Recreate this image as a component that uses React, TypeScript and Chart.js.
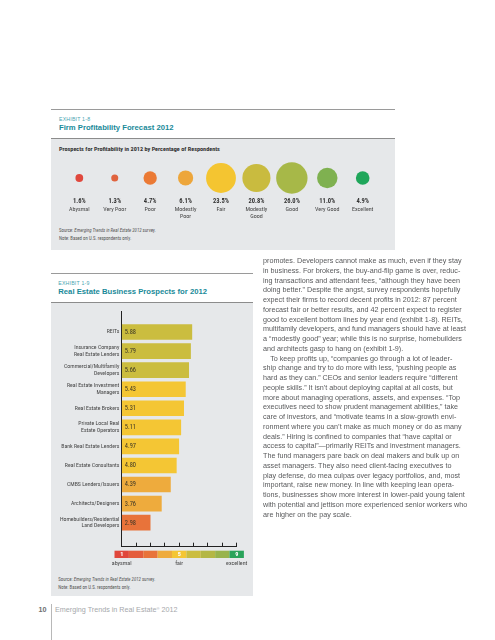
import React, { useEffect, useRef } from "react";
import { Chart, registerables } from "chart.js";

Chart.register(...registerables);

// ---------- Exhibit 1-8 data ----------
const ratingNames = ["Abysmal", "Very Poor", "Poor", "Modestly Poor", "Fair", "Modestly Good", "Good", "Very Good", "Excellent"];
const ratingNameLines = [["Abysmal"], ["Very Poor"], ["Poor"], ["Modestly", "Poor"], ["Fair"], ["Modestly", "Good"], ["Good"], ["Very Good"], ["Excellent"]];
const profitShares = [1.6, 1.3, 4.7, 6.1, 23.5, 20.8, 26.0, 11.0, 4.9];

// ---------- Exhibit 1-9 data ----------
const sectors = [
  ["REITs"],
  ["Insurance Company", "Real Estate Lenders"],
  ["Commercial/Multifamily", "Developers"],
  ["Real Estate Investment", "Managers"],
  ["Real Estate Brokers"],
  ["Private Local Real", "Estate Operators"],
  ["Bank Real Estate Lenders"],
  ["Real Estate Consultants"],
  ["CMBS Lenders/Issuers"],
  ["Architects/Designers"],
  ["Homebuilders/Residential", "Land Developers"],
];
const prospectScores = [5.88, 5.79, 5.66, 5.43, 5.31, 5.11, 4.97, 4.8, 4.39, 3.76, 2.98];
const scaleTicks = [1, 2, 3, 4, 5, 6, 7, 8, 9];
const scaleWordValues = [1, 5, 9];
const scaleWords = ["abysmal", "fair", "excellent"];

// ---------- styles ----------
const scaleColors = ["#e0473b", "#e45d3c", "#e8733a", "#eeab3d", "#f4c634", "#cbbd3f", "#b4b746", "#98b34d", "#29a35a"];
const bubbleColors = ["#e0483d", "#e0633e", "#eb7a35", "#eda63b", "#f4c531", "#c9bb3f", "#a7b848", "#7fb150", "#1fa65a"];
const NARROW = "'Roboto Condensed', 'DejaVu Sans Condensed', sans-serif";
const SANS = "'Liberation Sans', Arial, Helvetica, sans-serif";
const TEAL = "#1a8a99";

const bodyLines = [
  "promotes. Developers cannot make as much, even if they stay",
  "in business. For brokers, the buy-and-flip game is over, reduc-",
  "ing transactions and attendant fees, \u201calthough they have been",
  "doing better.\u201d Despite the angst, survey respondents hopefully",
  "expect their firms to record decent profits in 2012: 87 percent",
  "forecast fair or better results, and 42 percent expect to register",
  "good to excellent bottom lines by year end (exhibit 1-8). REITs,",
  "multifamily developers, and fund managers should have at least",
  "a \u201cmodestly good\u201d year; while this is no surprise, homebuilders",
  "and architects gasp to hang on (exhibit 1-9).",
  "\u2003To keep profits up, \u201ccompanies go through a lot of leader-",
  "ship change and try to do more with less, \u201cpushing people as",
  "hard as they can.\u201d CEOs and senior leaders require \u201cdifferent",
  "people skills.\u201d It isn\u2019t about deploying capital at all costs, but",
  "more about managing operations, assets, and expenses. \u201cTop",
  "executives need to show prudent management abilities,\u201d take",
  "care of investors, and \u201cmotivate teams in a slow-growth envi-",
  "ronment where you can\u2019t make as much money or do as many",
  "deals.\u201d Hiring is confined to companies that \u201chave capital or",
  "access to capital\u201d\u2014primarily REITs and investment managers.",
  "The fund managers pare back on deal makers and bulk up on",
  "asset managers. They also need client-facing executives to",
  "play defense, do mea culpas over legacy portfolios, and, most",
  "important, raise new money. In line with keeping lean opera-",
  "tions, businesses show more interest in lower-paid young talent",
  "with potential and jettison more experienced senior workers who",
  "are higher on the pay scale.",
];

function BubbleChart() {
  const ref = useRef<HTMLCanvasElement>(null);
  useEffect(() => {
    const chart = new Chart(ref.current as HTMLCanvasElement, {
      type: "bubble",
      data: {
        datasets: [
          {
            data: profitShares.map((v, i) => ({ x: i, y: 0, r: 3.08 * Math.sqrt(v) })),
            backgroundColor: bubbleColors,
            borderWidth: 0,
            clip: false,
          } as any,
        ],
      },
      options: {
        responsive: false,
        animation: false,
        events: [],
        layout: { autoPadding: false, padding: { left: 10.6, right: 14.6, top: 5, bottom: 5.2 } },
        plugins: { legend: { display: false }, tooltip: { enabled: false } },
        scales: {
          x: {
            type: "category",
            labels: ratingNames,
            offset: true,
            weight: 0,
            grid: { display: false, drawTicks: false },
            border: { display: false },
            ticks: {
              padding: 2,
              autoSkip: false,
              maxRotation: 0,
              color: "#333",
              font: { family: NARROW, size: 6.5, weight: "bold", lineHeight: 1.02 },
              callback: (_v: any, i: number) => profitShares[i].toFixed(1) + "%",
            },
          },
          x2: {
            type: "category",
            axis: "x",
            position: "bottom",
            labels: ratingNameLines as any,
            offset: true,
            weight: 1,
            grid: { display: false, drawTicks: false },
            border: { display: false },
            ticks: {
              padding: 0,
              autoSkip: false,
              maxRotation: 0,
              color: "#444",
              font: { family: NARROW, size: 6, lineHeight: 1.1 },
            },
          },
          y: { type: "linear", min: -1, max: 1, display: false },
        },
      } as any,
    });
    return () => chart.destroy();
  }, []);
  return (
    <canvas
      ref={ref}
      width={344}
      height={70}
      style={{ position: "absolute", left: 51, top: 155, width: 344, height: 70 }}
    />
  );
}

function BarChart() {
  const ref = useRef<HTMLCanvasElement>(null);
  useEffect(() => {
    const valueLabels = {
      id: "valueLabels",
      afterDatasetsDraw(chart: any) {
        const { ctx } = chart;
        const meta = chart.getDatasetMeta(0);
        ctx.save();
        ctx.font = `6.4px ${NARROW}`;
        ctx.fillStyle = "#3a3526";
        ctx.textAlign = "left";
        ctx.textBaseline = "middle";
        meta.data.forEach((bar: any, i: number) => {
          ctx.fillText(prospectScores[i].toFixed(2), bar.base + 2.6, bar.y + 0.3);
        });
        ctx.restore();
      },
    };
    const ratingScale = {
      id: "ratingScale",
      afterDraw(chart: any) {
        const { ctx } = chart;
        const x = chart.scales.x;
        const top = chart.chartArea.bottom + 4;
        const h = 7.3;
        ctx.save();
        scaleTicks.forEach((t, i) => {
          const l = x.getPixelForValue(t - 0.5);
          const r = x.getPixelForValue(t + 0.5);
          ctx.fillStyle = scaleColors[i];
          ctx.fillRect(l, top, r - l, h);
        });
        ctx.textAlign = "center";
        ctx.textBaseline = "middle";
        ctx.font = `bold 6.2px ${NARROW}`;
        ctx.fillStyle = "#ffffff";
        scaleWordValues.forEach((v) => ctx.fillText(String(v), x.getPixelForValue(v), top + h / 2 + 0.3));
        ctx.font = `6px ${NARROW}`;
        ctx.fillStyle = "#444";
        scaleWordValues.forEach((v, i) => ctx.fillText(scaleWords[i], x.getPixelForValue(v), top + h + 5));
        ctx.restore();
      },
    };
    const chart = new Chart(ref.current as HTMLCanvasElement, {
      type: "bar",
      data: {
        datasets: [
          {
            data: prospectScores.map((v, i) => ({ x: v, y: i })),
            base: 1,
            barThickness: 15,
            backgroundColor: prospectScores.map((v) => scaleColors[Math.round(v) - 1]),
            borderWidth: 0,
          } as any,
        ],
      },
      options: {
        indexAxis: "y",
        responsive: false,
        animation: false,
        events: [],
        layout: { padding: { left: 0, right: 16.3, top: 9.8, bottom: 25.3 } },
        plugins: { legend: { display: false }, tooltip: { enabled: false } },
        scales: {
          x: {
            type: "linear",
            min: 1,
            max: 9,
            ticks: { display: false, stepSize: 1 },
            grid: { display: true, drawOnChartArea: false, drawTicks: true, tickLength: -4, color: "#222", lineWidth: 1 },
            border: { display: true, color: "#222", width: 1 },
          },
          y: {
            type: "linear",
            reverse: true,
            min: -0.5,
            max: 10.7,
            afterBuildTicks: (s: any) => {
              s.ticks = sectors.map((_, i) => ({ value: i }));
            },
            afterFit: (s: any) => {
              s.width = 70.7;
            },
            grid: { display: false, drawTicks: false },
            border: { display: true, color: "#222", width: 1 },
            ticks: {
              padding: 2.4,
              autoSkip: false,
              color: "#444",
              font: { family: NARROW, size: 5.8, lineHeight: 1.15 },
              callback: (v: any) => sectors[v] as any,
            },
          },
        },
      } as any,
      plugins: [valueLabels, ratingScale],
    });
    return () => chart.destroy();
  }, []);
  return (
    <canvas
      ref={ref}
      width={202}
      height={270}
      style={{ position: "absolute", left: 51, top: 302, width: 202, height: 270 }}
    />
  );
}

function T(props: { x: number; y: number; size: number; children: any; style?: any }) {
  return (
    <div
      style={{
        position: "absolute",
        left: props.x,
        top: props.y - 5,
        height: 10,
        lineHeight: "10px",
        fontSize: props.size,
        whiteSpace: "nowrap",
        fontFamily: SANS,
        ...(props.style || {}),
      }}
    >
      {props.children}
    </div>
  );
}

function Rule(props: { x: number; y: number; w: number; color?: string }) {
  return (
    <div
      style={{
        position: "absolute",
        left: props.x,
        top: props.y,
        width: props.w,
        height: 1,
        background: props.color || "#9a9a9a",
      }}
    />
  );
}

export default function App() {
  const grey = "#e6e8ea";
  return (
    <div
      style={{
        position: "fixed",
        left: 0,
        top: 0,
        width: 495,
        height: 640,
        background: "#ffffff",
        overflow: "hidden",
        fontFamily: SANS,
      }}
    >
      {/* Exhibit 1-8 */}
      <Rule x={51} y={109} w={344} />
      <T x={59} y={119.3} size={5.2} style={{ color: "#4aa6b2", letterSpacing: 0.2 }}>EXHIBIT 1-8</T>
      <T x={59} y={127.5} size={7.7} style={{ color: TEAL, fontWeight: "bold" }}>Firm Profitability Forecast 2012</T>
      <Rule x={51} y={137.5} w={344} color="#8c8c8c" />
      <div style={{ position: "absolute", left: 51, top: 138.5, width: 344, height: 111.5, background: grey }} />
      <T x={59} y={149} size={6.2} style={{ color: "#333", fontWeight: "bold", fontFamily: NARROW }}>
        Prospects for Profitability in 2012 by Percentage of Respondents
      </T>
      <BubbleChart />
      <T x={59} y={231.3} size={4.8} style={{ color: "#555", fontFamily: NARROW }}>
        Source: <i>Emerging Trends in Real Estate 2012</i> survey.
      </T>
      <T x={59} y={239.3} size={4.8} style={{ color: "#555", fontFamily: NARROW }}>
        Note: Based on U.S. respondents only.
      </T>

      {/* Exhibit 1-9 */}
      <Rule x={51} y={273} w={202} />
      <T x={58.3} y={283.3} size={5.2} style={{ color: "#4aa6b2", letterSpacing: 0.2 }}>EXHIBIT 1-9</T>
      <T x={58.3} y={292} size={7.7} style={{ color: TEAL, fontWeight: "bold" }}>Real Estate Business Prospects for 2012</T>
      <Rule x={51} y={301.5} w={202} color="#8c8c8c" />
      <div style={{ position: "absolute", left: 51, top: 302.5, width: 202.3, height: 293.2, background: grey }} />
      <BarChart />
      <T x={58.3} y={580} size={4.8} style={{ color: "#555", fontFamily: NARROW }}>
        Source: <i>Emerging Trends in Real Estate 2012</i> survey.
      </T>
      <T x={58.3} y={587.7} size={4.8} style={{ color: "#555", fontFamily: NARROW }}>
        Note: Based on U.S. respondents only.
      </T>

      {/* Body text */}
      <div
        style={{
          position: "absolute",
          left: 263.3,
          top: 256,
          fontSize: 7.2,
          lineHeight: "9.75px",
          color: "#58595b",
          fontFamily: SANS,
          whiteSpace: "nowrap",
          willChange: "transform",
        }}
      >
        {bodyLines.map((l, i) => (
          <div key={i}>{l}</div>
        ))}
      </div>

      {/* Footer */}
      <T x={38.5} y={609.5} size={7.2} style={{ color: "#6d6e70", fontWeight: "bold" }}>10</T>
      <div style={{ position: "absolute", left: 50.5, top: 604, width: 1, height: 36, background: "#b8b8b8" }} />
      <T x={55} y={609.5} size={7.2} style={{ color: "#a6a8ab" }}>
        Emerging Trends in Real Estate<sup style={{ fontSize: 4, verticalAlign: "top", lineHeight: "7px" }}>®</sup> 2012
      </T>
    </div>
  );
}
